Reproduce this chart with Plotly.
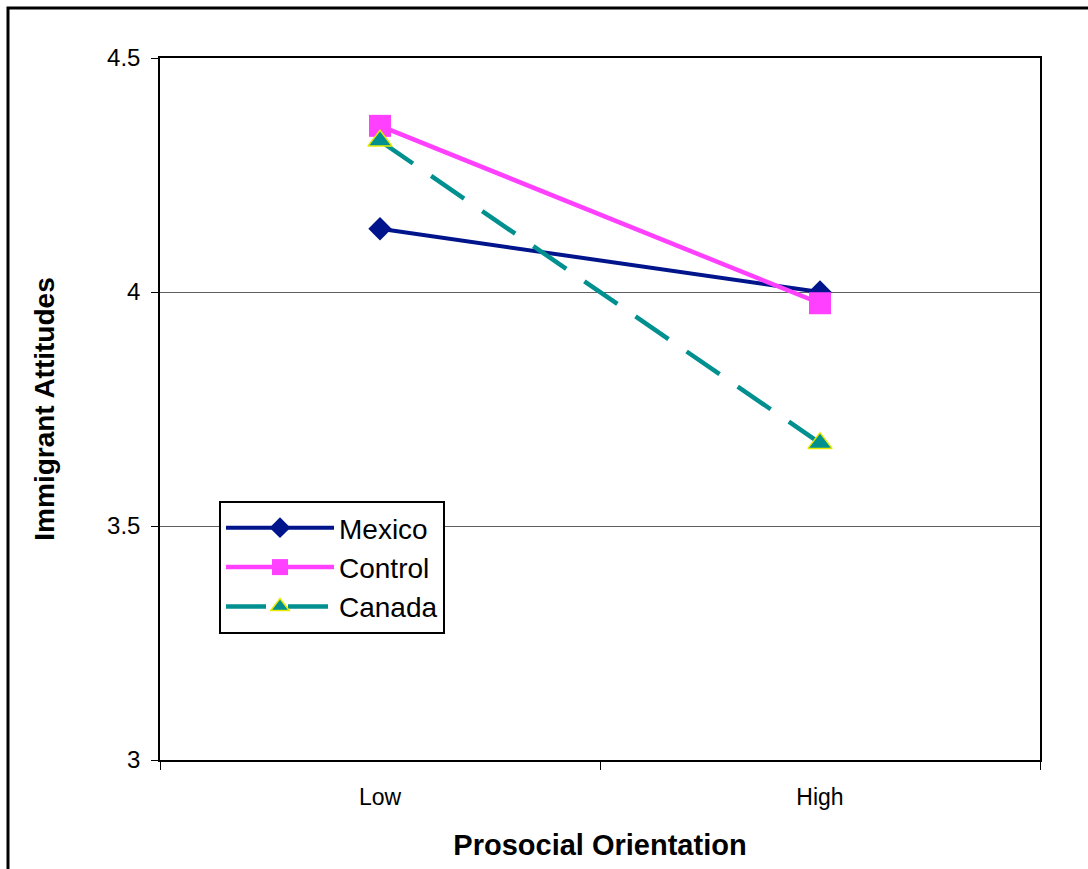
import plotly.graph_objects as go

categories = ["Low", "High"]
mexico = [4.135, 4.0]
control = [4.355, 3.976]
canada = [4.323, 3.677]

fig = go.Figure()
fig.add_trace(go.Scatter(
    x=categories, y=mexico, name="Mexico", mode="lines+markers", legendgroup="a",
    line=dict(color="#00148C", width=4),
    marker=dict(symbol="diamond", size=18, color="#00148C"),
))
fig.add_trace(go.Scatter(
    x=categories, y=control, name="Control", mode="lines+markers", legendgroup="b",
    line=dict(color="#FF40FF", width=4.5),
    marker=dict(symbol="square", size=22, color="#FF40FF"),
))
fig.add_trace(go.Scatter(
    x=categories, y=canada, name="Canada", mode="lines+markers", legendgroup="c",
    line=dict(color="#009090", width=4.5, dash="40px,22px"),
    marker=dict(symbol="triangle-up", size=21, color="#009090",
                line=dict(color="#E8E800", width=1.5)),
))

font = "Liberation Sans, Arial, sans-serif"
fig.update_layout(
    width=1088, height=869,
    margin=dict(l=160, r=48, t=58, b=109),
    paper_bgcolor="white", plot_bgcolor="white",
    font=dict(family=font, color="black"),
    showlegend=True,
    legend=dict(
        x=(219 - 160) / 880, y=(760 - 501) / 702, xanchor="left", yanchor="top",
        bgcolor="white", bordercolor="black", borderwidth=2,
        font=dict(size=28, family=font), itemwidth=108, tracegroupgap=6,
        traceorder="normal",
    ),
    xaxis=dict(
        type="category", range=[-0.5, 1.5],
        showline=True, linecolor="black", linewidth=1.5, mirror=True,
        ticks="outside", ticklen=8, tickcolor="black", tickson="boundaries",
        showgrid=False, tickfont=dict(size=23), ticklabelstandoff=16,
        title=dict(text="<b>Prosocial Orientation</b>", font=dict(size=29), standoff=25),
    ),
    yaxis=dict(
        range=[3, 4.5], tickvals=[3, 3.5, 4, 4.5], ticktext=["3", "3.5", "4", "4.5"],
        showline=True, linecolor="black", linewidth=1.5, mirror=True,
        ticks="outside", ticklen=7, tickcolor="black",
        showgrid=True, gridcolor="#606060", gridwidth=1,
        tickfont=dict(size=24), zeroline=False, ticklabelstandoff=6,
        title=dict(text="<b>Immigrant Attitudes</b>", font=dict(size=28), standoff=44),
    ),
    shapes=[dict(
        type="rect", xref="paper", yref="paper",
        x0=(8 - 160) / 880, x1=2.0, y0=-2.0, y1=(760 - 8) / 702,
        line=dict(color="black", width=3), layer="above",
    )],
)

fig.write_html("out.html")
